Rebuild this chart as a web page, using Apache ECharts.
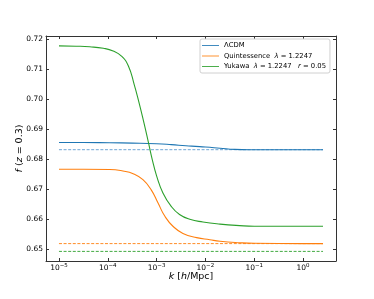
<!DOCTYPE html>
<html><head><meta charset="utf-8">
<script src="https://cdn.jsdelivr.net/npm/echarts@6/dist/echarts.min.js"></script>
<style>html,body{margin:0;padding:0;background:#fff}#c{width:374px;height:299px}</style>
</head><body><div id="c"></div>
<script>
// log10(k) exponents and f values
var lcdmLogK = [-5, -4.5, -3.96, -3.5, -3.0, -2.7, -2.4, -2.2, -2.0, -1.7, -1.4, -1.1, -0.5, 0, 0.41];
var lcdmF    = [0.6856, 0.6856, 0.6855, 0.6854, 0.6852, 0.6849, 0.6845, 0.6843, 0.6841, 0.6837, 0.6833, 0.6832, 0.6832, 0.6832, 0.6832];
var quintLogK = [-5, -4.5, -3.96, -3.69, -3.48, -3.28, -3.11, -2.97, -2.83, -2.66, -2.46, -2.18, -1.91, -1.7, -1.3, -1.0, 0, 0.41];
var quintF    = [0.6767, 0.6767, 0.6766, 0.6761, 0.6752, 0.6732, 0.6698, 0.6654, 0.6610, 0.6576, 0.6553, 0.6539, 0.6532, 0.6527, 0.6522, 0.6520, 0.6519, 0.6519];
var yukLogK = [-5, -4.65, -4.37, -4.09, -3.89, -3.72, -3.58, -3.46, -3.36, -3.26, -3.17, -3.09, -3.0, -2.87, -2.7, -2.53, -2.32, -2.05, -1.7, -1.3, -1.0, 0, 0.41];
var yukF    = [0.7178, 0.7177, 0.7175, 0.7170, 0.7161, 0.7144, 0.7112, 0.7050, 0.6989, 0.6922, 0.6858, 0.6800, 0.6745, 0.6688, 0.6643, 0.6616, 0.6600, 0.6591, 0.6584, 0.6579, 0.6577, 0.6577, 0.6577];
var dashLogK = [-5, 0.41];
var dashLcdm = 0.6832, dashQuint = 0.6519, dashYuk = 0.6493;
var xTickExp = [-5, -4, -3, -2, -1, 0];
var yTicks = [0.65, 0.66, 0.67, 0.68, 0.69, 0.70, 0.71, 0.72];
var names = ['ΛCDM', 'Quintessence', 'Yukawa'];

function zip(a, b) { return a.map(function (v, i) { return [v, b[i]]; }); }
function flat(xs, y) { return xs.map(function (v) { return [v, y]; }); }

var C0 = '#1f77b4', C1 = '#ff7f0e', C2 = '#2ca02c';
var axisCol = '#333';
var xmin = -5.266, xmax = 0.676, ymin = 0.6461, ymax = 0.7211;
var font = 'DejaVu Sans';

var chart = echarts.init(document.getElementById('c'), null, {renderer: 'canvas'});
function xAx(pos, show) {
  return {
    type: 'value', position: pos, min: xmin, max: xmax,
    axisLine: {show: true, onZero: false, lineStyle: {color: axisCol, width: 1}},
    splitLine: {show: false},
    axisTick: {show: true, inside: true, length: 3, customValues: xTickExp, lineStyle: {color: axisCol}},
    axisLabel: {show: show, customValues: xTickExp, margin: 2, fontFamily: font, fontSize: 7.5, color: '#000',
      formatter: function (v) { var e = Math.round(v); return '{b|10}{s|' + (e < 0 ? '−' + Math.abs(e) : String(e)) + '}'; },
      rich: {b: {fontSize: 7.5, fontFamily: font, color: '#000'}, s: {fontSize: 5.5, fontFamily: font, color: '#000', verticalAlign: 'bottom', padding: [0, 0, 5, 0]}}},
    name: show ? '{i|k} [{i|h}/Mpc]' : '', nameLocation: 'middle', nameGap: 11, nameMoveOverlap: false,
    nameTextStyle: {fontFamily: font, fontSize: 9.5, color: '#000', rich: {i: {fontStyle: 'italic', fontFamily: font, fontSize: 9.5, color: '#000'}}}
  };
}
function yAx(pos, show) {
  return {
    type: 'value', position: pos, min: ymin, max: ymax,
    axisLine: {show: true, onZero: false, lineStyle: {color: axisCol, width: 1}},
    splitLine: {show: false},
    axisTick: {show: true, inside: true, length: 3, customValues: yTicks, lineStyle: {color: axisCol}},
    axisLabel: {show: show, customValues: yTicks, margin: 3, fontFamily: font, fontSize: 7.5, color: '#000',
      formatter: function (v) { return v.toFixed(2); }},
    name: show ? '{i|f} ({i|z} = 0.3)' : '', nameLocation: 'middle', nameGap: 21, nameRotate: 90, nameMoveOverlap: false,
    nameTextStyle: {fontFamily: font, fontSize: 9.5, color: '#000', rich: {i: {fontStyle: 'italic', fontFamily: font, fontSize: 9.5, color: '#000'}}}
  };
}
var legendFormatter = function (n) {
  if (n === 'ΛCDM') return 'ΛCDM';
  if (n === 'Quintessence') return 'Quintessence  {i|λ} = 1.2247';
  return 'Yukawa  {i|λ} = 1.2247   {i|r} = 0.05';
};
function curve(name, xs, ys, col) {
  return {name: name, type: 'line', data: zip(xs, ys), symbol: 'none', smooth: 0.5,
    itemStyle: {color: col}, lineStyle: {color: col, width: 1.1}};
}
chart.setOption({
  animation: false,
  backgroundColor: '#fff',
  grid: {left: 46, top: 36, width: 290, height: 225, containLabel: false},
  xAxis: [xAx('bottom', true), xAx('top', false)],
  yAxis: [yAx('left', true), yAx('right', false)],
  legend: {
    data: names, orient: 'vertical', left: 200, top: 39,
    itemWidth: 17, itemHeight: 7, itemGap: 3.5, padding: [3, 4, 3, 2],
    borderColor: '#d0d0d0', borderWidth: 1, borderRadius: 2, backgroundColor: '#fff',
    textStyle: {fontFamily: font, fontSize: 6.8, color: '#000', padding: [0, 0, 0, 0],
      rich: {i: {fontStyle: 'italic', fontFamily: font, fontSize: 6.8, color: '#000'}}},
    formatter: legendFormatter, icon: 'path://M0,4 L20,4 L20,5 L0,5 Z'
  },
  series: [
    {name: 'dashL', type: 'line', data: flat(dashLogK, dashLcdm), symbol: 'none', lineStyle: {color: '#6fa6d6', width: 1, type: [3, 1.6]}, silent: true},
    {name: 'dashQ', type: 'line', data: flat(dashLogK, dashQuint), symbol: 'none', lineStyle: {color: C1, width: 0.9, type: [3, 1.6]}, silent: true},
    {name: 'dashY', type: 'line', data: flat(dashLogK, dashYuk), symbol: 'none', lineStyle: {color: C2, width: 0.9, type: [3, 1.6]}, silent: true},
    curve(names[0], lcdmLogK, lcdmF, C0),
    curve(names[1], quintLogK, quintF, C1),
    curve(names[2], yukLogK, yukF, C2)
  ]
});
</script></body></html>
